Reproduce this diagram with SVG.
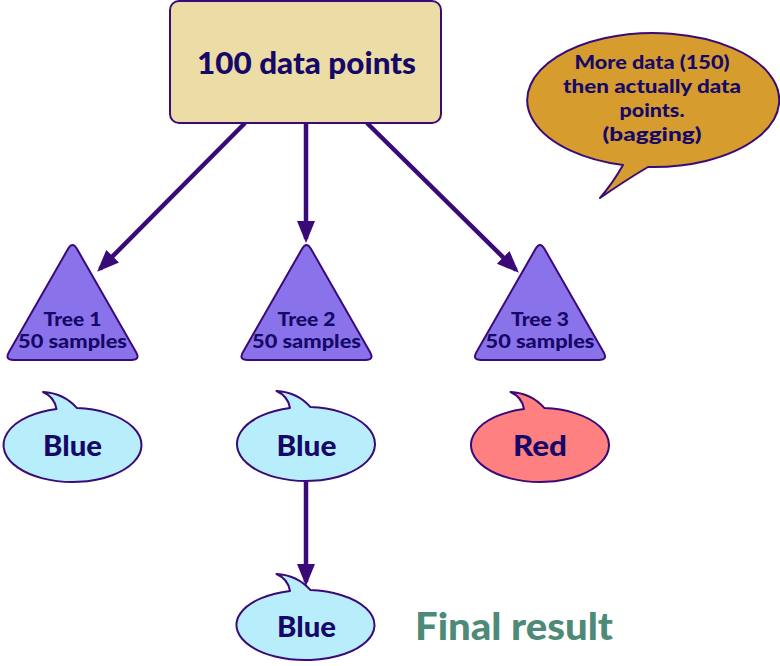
<svg xmlns="http://www.w3.org/2000/svg" width="780" height="666" viewBox="0 0 780 666">
<style>
text{font-family:Lato,"DejaVu Sans","Liberation Sans",sans-serif;font-weight:900;fill:#160866;text-anchor:middle}
.edge{stroke:#3a0a78;stroke-width:4.5;fill:none}
.tri{fill:#8a73ea;stroke:#3a0a78;stroke-width:2;stroke-linejoin:round}
.bub{stroke:#3a0a78;stroke-width:2;stroke-linejoin:round}
.blue{fill:#b8eefc}
.red{fill:#ff8080}
.t{font-size:18px}
.b{font-size:29px}
.n{font-size:19px}
</style>
<defs>
<marker id="ah" markerUnits="userSpaceOnUse" markerWidth="26" markerHeight="26" viewBox="0 0 26 26" refX="18" refY="13" orient="auto">
<path d="M0,4 L22,13 L0,22 Z" fill="#3a0a78"/>
</marker>
<path id="tri" d="M-4.4,7.8 L-63.6,111.2 Q-68,119 -59,119 L59,119 Q68,119 63.6,111.2 L4.4,7.8 Q0,0 -4.4,7.8 Z"/>
<path id="bubble" d="M-16,-35.99 Q-18,-48 -29.5,-53 Q-9,-52 4.5,-36.92 A69,37 0 1 1 -16,-35.99 Z"/>
</defs>
<g id="connectors">
<line class="edge" x1="245" y1="123" x2="100" y2="269" marker-end="url(#ah)"/>
<line class="edge" x1="306" y1="123" x2="306" y2="239" marker-end="url(#ah)"/>
<line class="edge" x1="367" y1="123" x2="516" y2="270" marker-end="url(#ah)"/>
<line class="edge" x1="306" y1="482" x2="306" y2="582" marker-end="url(#ah)"/>
</g>
<g id="root">
<rect x="170" y="1" width="271" height="122" rx="9" fill="#ecdca6" stroke="#3a0a78" stroke-width="2"/>
<text x="306.5" y="74" style="font-size:30px" textLength="219" lengthAdjust="spacingAndGlyphs">100 data points</text>
</g>
<g id="note">
<path class="bub" fill="#d69c2e" d="M623,165.1 Q613,183 600,198 Q626,180 648,167 A126,67 0 1 0 623,165.1 Z"/>
<text class="n" x="652" y="69" textLength="155" lengthAdjust="spacingAndGlyphs">More data (150)</text>
<text class="n" x="652" y="93" textLength="178" lengthAdjust="spacingAndGlyphs">then actually data</text>
<text class="n" x="652" y="117" textLength="65" lengthAdjust="spacingAndGlyphs">points.</text>
<text class="n" x="652" y="141" textLength="99" lengthAdjust="spacingAndGlyphs">(bagging)</text>
</g>
<g id="tree1">
<use href="#tri" class="tri" transform="translate(72.5,241)"/>
<text class="t" x="72.5" y="326" textLength="58" lengthAdjust="spacingAndGlyphs">Tree 1</text>
<text class="t" x="72.5" y="348" textLength="109" lengthAdjust="spacingAndGlyphs">50 samples</text>
</g>
<g id="tree2">
<use href="#tri" class="tri" transform="translate(306.5,241)"/>
<text class="t" x="306.5" y="326" textLength="58" lengthAdjust="spacingAndGlyphs">Tree 2</text>
<text class="t" x="306.5" y="348" textLength="109" lengthAdjust="spacingAndGlyphs">50 samples</text>
</g>
<g id="tree3">
<use href="#tri" class="tri" transform="translate(540,241)"/>
<text class="t" x="540" y="326" textLength="58" lengthAdjust="spacingAndGlyphs">Tree 3</text>
<text class="t" x="540" y="348" textLength="109" lengthAdjust="spacingAndGlyphs">50 samples</text>
</g>
<g id="vote1">
<use href="#bubble" class="bub blue" transform="translate(72.5,445)"/>
<text class="b" x="72.5" y="456" textLength="59" lengthAdjust="spacingAndGlyphs">Blue</text>
</g>
<g id="vote2">
<use href="#bubble" class="bub blue" transform="translate(306,444)"/>
<text class="b" x="306.5" y="456" textLength="60" lengthAdjust="spacingAndGlyphs">Blue</text>
</g>
<g id="vote3">
<use href="#bubble" class="bub red" transform="translate(540,445)"/>
<text class="b" x="540" y="456" textLength="54" lengthAdjust="spacingAndGlyphs">Red</text>
</g>
<g id="final">
<path class="bub blue" d="M290,590.9 Q288,579 276.5,574 Q297,575 310.5,590.1 A69,35 0 1 1 290,590.9 Z"/>
<text class="b" x="306.5" y="637" textLength="59" lengthAdjust="spacingAndGlyphs">Blue</text>
</g>
<text x="415" y="640" style="font-size:37px;fill:#4e8a78;text-anchor:start" textLength="198" lengthAdjust="spacingAndGlyphs">Final result</text>
</svg>
